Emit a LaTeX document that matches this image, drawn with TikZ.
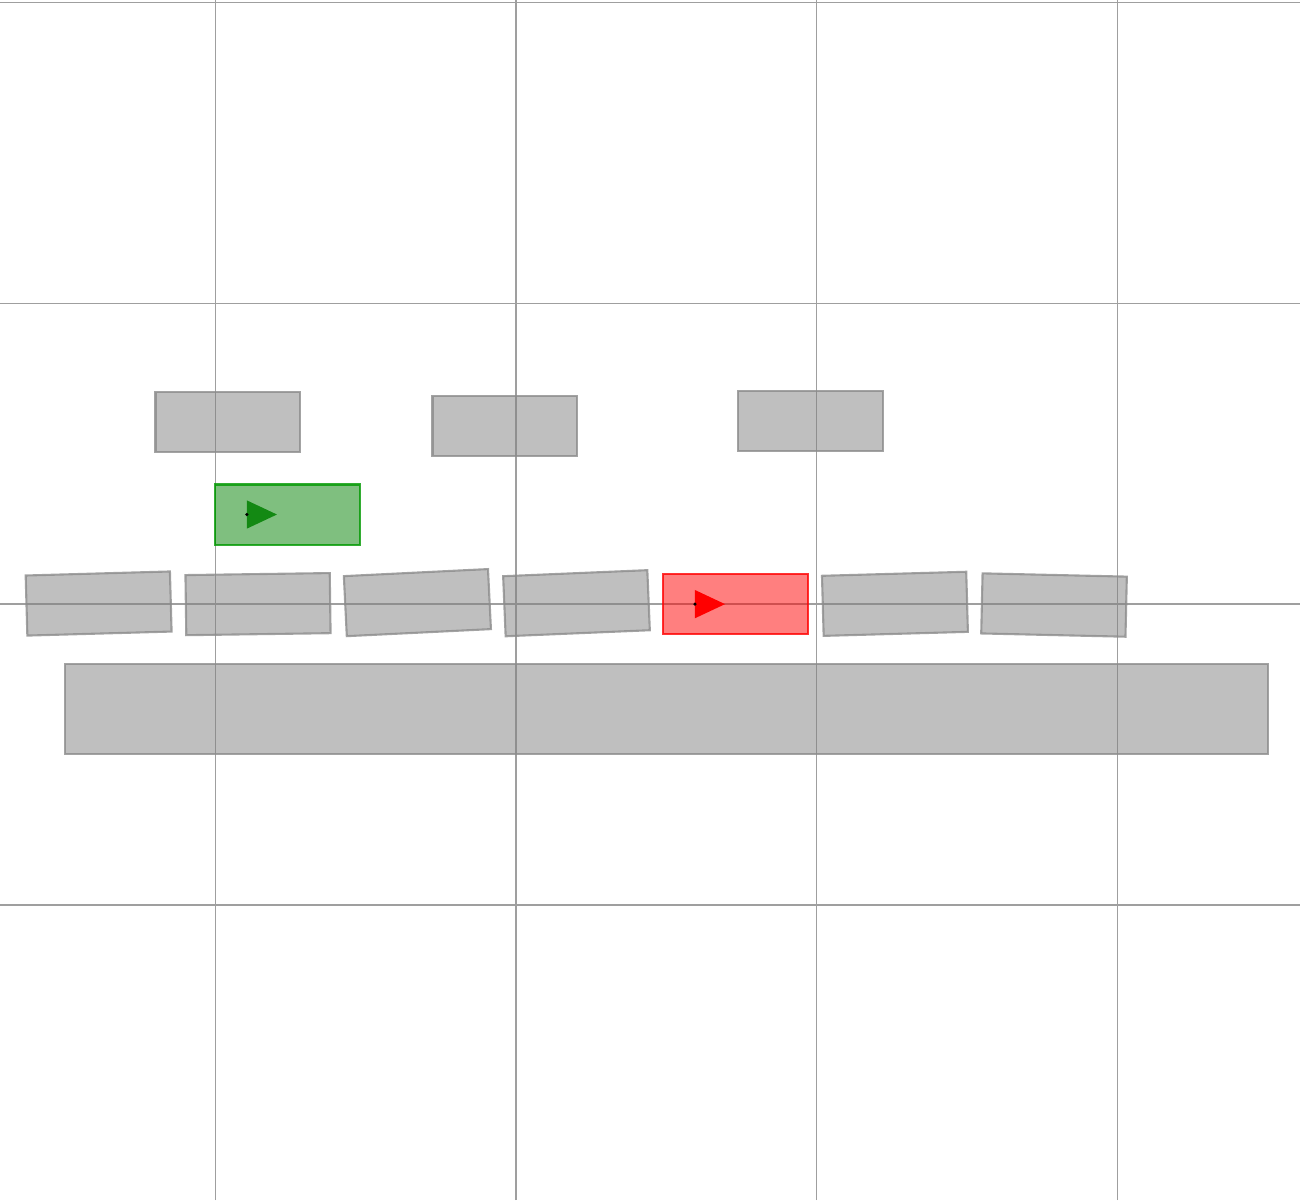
\documentclass[tikz,border=0pt]{standalone}
\usepackage{tikz}

\begin{document}
\begin{tikzpicture}[
  x=3.007cm, y=3.007cm,
  block/.style={rectangle, draw=gray!90, line width=0.6pt, fill=gray,
    fill opacity=0.5, draw opacity=0.8, inner sep=0pt,
    minimum width=1.443cm, minimum height=0.601cm},
  ground/.style={block, minimum width=12.03cm, minimum height=0.902cm},
  startblock/.style={block, draw=green!60!black, fill=green!50!black},
  goalblock/.style={block, draw=red, fill=red}
]

%% ── page frame ───────────────────────────────────────────────────────────────
\useasboundingbox (-0.716,-1.982) rectangle (3.607,2.009);

%% ── grid ─────────────────────────────────────────────────────────────────────
\draw[gray!75, line width=0.4pt]
  \foreach \x in {0,1,2,3} { (\x,-1.982) -- (\x,2.009) }
  \foreach \y in {-1,0,1,2} { (-0.716,\y) -- (3.607,\y) };

%% ── ground slab ──────────────────────────────────────────────────────────────
\node[ground] (slab) at (1.5005,-0.349) {};

%% ── row of blocks on the slab ────────────────────────────────────────────────
\foreach \i/\px/\py/\ang in {1/-0.388/0.002/1.6, 2/0.142/0/0.8,
    3/0.672/0.005/2.8, 4/1.201/0.003/2.4, 6/2.260/0.001/1.6,
    7/2.789/-0.003/-1.3} {
  \node[block, rotate=\ang] (row\i) at (\px,\py) {};
}
\node[goalblock] (row5) at (1.730,0) {};

%% ── upper blocks ─────────────────────────────────────────────────────────────
\node[block] (top1) at (0.041,0.605) {};
\node[block] (top2) at (0.962,0.592) {};
\node[block] (top3) at (1.979,0.609) {};

%% ── start block ──────────────────────────────────────────────────────────────
\node[startblock] (start) at (0.240,0.298) {};

%% ── heading markers ──────────────────────────────────────────────────────────
\coordinate (startpos) at ([xshift=-0.406cm]start.center);
\coordinate (goalpos) at ([xshift=-0.406cm]row5.center);

\fill[green!50!black, fill opacity=0.85]
  (startpos) ++(0,0.047) -- ++(0.1,-0.047) -- ++(-0.1,-0.047) -- cycle;
\fill[red]
  (goalpos) ++(0,0.047) -- ++(0.1,-0.047) -- ++(-0.1,-0.047) -- cycle;
\fill[black] (startpos) circle (0.5pt);
\fill[black] (goalpos) circle (0.5pt);

\end{tikzpicture}
\end{document}
